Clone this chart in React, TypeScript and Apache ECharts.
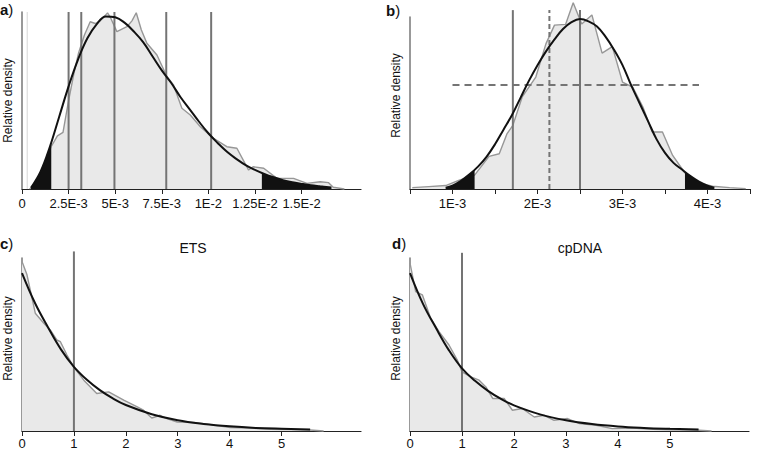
import React, { useEffect, useRef } from "react";
import * as echarts from "echarts";

const FONT = "'Liberation Sans', Arial, Helvetica, sans-serif";

// ---------- Panel a (x in units of 1E-3) ----------
const ticksA = [0, 2.5, 5, 7.5, 10, 12.5, 15];
const tickLabelsA = ["0", "2.5E-3", "5E-3", "7.5E-3", "1E-2", "1.25E-2", "1.5E-2"];
const histA = [
  [0.4, 0], [0.7, 0.02], [1.0, 0.09], [1.3, 0.17], [1.57, 0.24], [1.9, 0.3], [2.2, 0.32],
  [2.5, 0.5], [2.8, 0.66], [3.04, 0.77], [3.35, 0.87], [3.66, 0.945], [3.93, 0.935],
  [4.2, 0.95], [4.59, 0.995], [4.74, 0.97], [5.09, 0.889], [5.63, 0.917], [5.9, 0.95],
  [6.13, 0.996], [6.4, 0.9], [6.7, 0.823], [7.24, 0.757], [7.78, 0.634], [8.13, 0.588],
  [8.58, 0.456], [9.03, 0.418], [9.57, 0.352], [10.28, 0.286], [10.99, 0.239], [11.53, 0.23],
  [12.16, 0.107], [12.4, 0.126], [12.97, 0.117], [13.68, 0.06], [14.57, 0.06], [15.29, 0.032],
  [16.0, 0.041], [16.45, 0.036], [16.7, 0.01], [17.3, 0],
];
const curveA = [
  [0.48, 0.007], [1.0, 0.1], [1.5, 0.24], [2.0, 0.41], [2.5, 0.58], [3.0, 0.73], [3.5, 0.85],
  [4.0, 0.93], [4.5, 0.975], [5.0, 0.97], [5.5, 0.94], [6.0, 0.89], [6.5, 0.83], [7.0, 0.75],
  [7.5, 0.67], [8.0, 0.6], [8.5, 0.52], [9.0, 0.45], [9.5, 0.38], [10.0, 0.315], [10.5, 0.26],
  [11.0, 0.21], [11.5, 0.17], [12.0, 0.135], [12.5, 0.108], [13.0, 0.085], [13.5, 0.066],
  [14.0, 0.05], [14.5, 0.038], [15.0, 0.029], [15.5, 0.021], [16.0, 0.015], [16.6, 0.008],
];
const leftTailA = [[0.48, 0.007], [1.0, 0.1], [1.57, 0.262]];
const rightTailA = [
  [12.87, 0.091], [13.0, 0.085], [13.5, 0.066], [14.0, 0.05], [14.5, 0.038], [15.0, 0.029],
  [15.5, 0.021], [16.0, 0.015], [16.6, 0.008],
];
const solidLinesA = [2.5, 3.18, 4.96, 7.74, 10.15];
const faintLinesA = [0.28];

// ---------- Panel b (x in units of 1E-3) ----------
const tickMarksB = [0.5, 1, 1.5, 2, 2.5, 3, 3.5, 4, 4.5];
const ticksB = [1, 2, 3, 4];
const tickLabelsB = ["1E-3", "2E-3", "3E-3", "4E-3"];
const histB = [
  [0.527, 0.008], [0.72, 0.014], [0.92, 0.02], [1.08, 0.052], [1.26, 0.081], [1.43, 0.19],
  [1.55, 0.205], [1.64, 0.32], [1.71, 0.37], [1.82, 0.535], [1.98, 0.651], [2.1, 0.845],
  [2.2, 0.953], [2.33, 0.957], [2.42, 1.083], [2.52, 0.959], [2.64, 1.012], [2.76, 0.79],
  [2.88, 0.828], [3.0, 0.622], [3.12, 0.593], [3.24, 0.477], [3.35, 0.331], [3.47, 0.331],
  [3.59, 0.195], [3.735, 0.093], [3.9, 0.035], [4.06, 0.016], [4.26, 0.008], [4.45, 0.002],
];
const curveB = [
  [0.92, 0.008], [1.0, 0.02], [1.1, 0.048], [1.2, 0.085], [1.3, 0.13], [1.4, 0.187],
  [1.5, 0.26], [1.6, 0.345], [1.7, 0.43], [1.8, 0.53], [1.9, 0.63], [2.0, 0.72], [2.1, 0.8],
  [2.2, 0.87], [2.3, 0.93], [2.4, 0.97], [2.5, 0.988], [2.6, 0.975], [2.7, 0.945],
  [2.8, 0.886], [2.9, 0.81], [3.0, 0.72], [3.1, 0.605], [3.2, 0.5], [3.3, 0.395], [3.4, 0.29],
  [3.5, 0.21], [3.6, 0.152], [3.7, 0.113], [3.8, 0.075], [3.9, 0.043], [4.0, 0.02], [4.08, 0.008],
];
const leftTailB = [[0.92, 0.008], [1.0, 0.02], [1.1, 0.048], [1.2, 0.085], [1.26, 0.11]];
const rightTailB = [[3.735, 0.1], [3.8, 0.075], [3.9, 0.043], [4.0, 0.02], [4.08, 0.008]];
const solidLinesB = [1.71, 2.5];
const dashedVLinesB = [2.14];
const dashedHLineB = [[1.0, 0.605], [3.9, 0.605]];

// ---------- Panel c (ETS) ----------
const ticksCD = [0, 1, 2, 3, 4, 5];
const tickLabelsCD = ["0", "1", "2", "3", "4", "5"];
const histC = [
  [0, 0.98], [0.096, 0.903], [0.256, 0.681], [0.42, 0.623], [0.545, 0.584], [0.67, 0.526],
  [0.74, 0.516], [0.866, 0.439], [0.995, 0.371], [1.19, 0.294], [1.44, 0.217], [1.67, 0.226],
  [1.96, 0.178], [2.22, 0.139], [2.34, 0.12], [2.5, 0.075], [2.66, 0.091], [2.79, 0.072],
  [2.99, 0.052], [3.31, 0.049], [3.63, 0.037], [4.01, 0.02], [4.4, 0.017], [4.78, 0.01],
  [5.17, 0.008], [5.55, 0.006], [5.81, 0],
];
const curveC = [
  [0, 0.913], [0.25, 0.74], [0.5, 0.6], [0.75, 0.472], [1.0, 0.371], [1.25, 0.296], [1.5, 0.236],
  [1.75, 0.188], [2.0, 0.15], [2.5, 0.097], [3.0, 0.062], [3.5, 0.041], [4.0, 0.027],
  [4.5, 0.018], [5.0, 0.013], [5.55, 0.009],
];
const solidLinesC = [1];

// ---------- Panel d (cpDNA) ----------
const histD = [
  [0, 0.971], [0.109, 0.806], [0.237, 0.787], [0.397, 0.652], [0.558, 0.574], [0.75, 0.497],
  [0.91, 0.41], [1.0, 0.342], [1.17, 0.313], [1.33, 0.294], [1.46, 0.255], [1.59, 0.188],
  [1.81, 0.188], [1.97, 0.12], [2.16, 0.13], [2.39, 0.081], [2.58, 0.091], [2.77, 0.062],
  [3.03, 0.072], [3.26, 0.043], [3.58, 0.033], [3.89, 0.014], [4.28, 0.017], [4.67, 0.01],
  [5.05, 0.007], [5.56, 0.004], [5.8, 0],
];
const curveD = [
  [0, 0.913], [0.25, 0.735], [0.5, 0.595], [0.75, 0.466], [1.0, 0.362], [1.25, 0.29],
  [1.5, 0.232], [1.75, 0.185], [2.0, 0.148], [2.5, 0.096], [3.0, 0.062], [3.5, 0.04],
  [4.0, 0.026], [4.5, 0.018], [5.0, 0.013], [5.55, 0.009],
];
const solidLinesD = [1];

const panelTitles = ["ETS", "cpDNA"];

function labelFor(ticks: number[], labels: string[]) {
  return (v: number) => {
    const i = ticks.findIndex((t) => Math.abs(t - v) < 1e-9);
    return i >= 0 ? labels[i] : "";
  };
}

export default function App() {
  const ref = useRef<HTMLDivElement>(null);

  useEffect(() => {
    if (!ref.current) return;
    const chart = echarts.init(ref.current, null, { renderer: "svg" });

    const grids = [
      { left: 22, top: 12, width: 339, height: 177 },
      { left: 410, top: 17, width: 340, height: 172 },
      { left: 22, top: 258, width: 339, height: 173 },
      { left: 410, top: 258, width: 339, height: 173 },
    ];
    const xRanges = [
      [0, 18.19],
      [0.5, 4.5],
      [0, 6.53],
      [0, 6.52],
    ];
    const tickSets = [ticksA, tickMarksB, ticksCD, ticksCD];
    const labelSets = [ticksA, ticksB, ticksCD, ticksCD];
    const labelFmt = [
      labelFor(ticksA, tickLabelsA),
      labelFor(ticksB, tickLabelsB),
      labelFor(ticksCD, tickLabelsCD),
      labelFor(ticksCD, tickLabelsCD),
    ];
    const labelMargins = [8, 8, 6, 6];
    const namePad = [0, 15, 12, 12];

    const xAxis = grids.map((_, i) => ({
      type: "value",
      gridIndex: i,
      min: xRanges[i][0],
      max: xRanges[i][1],
      splitLine: { show: false },
      axisLine: { show: true, onZero: false, lineStyle: { color: "#222", width: 1.2 } },
      axisTick: {
        show: true,
        customValues: tickSets[i],
        length: 5,
        inside: false,
        lineStyle: { color: "#222", width: 1 },
      },
      axisLabel: {
        show: true,
        customValues: labelSets[i],
        formatter: labelFmt[i],
        fontSize: 13,
        color: "#111",
        fontFamily: FONT,
        margin: labelMargins[i],
      },
    }));

    const yAxis = grids.map((_, i) => ({
      type: "value",
      gridIndex: i,
      min: 0,
      max: 1,
      axisLine: { show: true, onZero: false, lineStyle: { color: "#777", width: 1.5 } },
      axisTick: { show: false },
      axisLabel: { show: false },
      splitLine: { show: false },
      name: "Relative density",
      nameLocation: "middle",
      nameGap: 8,
      nameTextStyle: {
        fontSize: 12,
        color: "#111",
        fontFamily: FONT,
        padding: [0, 0, 0, namePad[i]],
      },
    }));

    const series: any[] = [];
    const hist = (i: number, data: number[][]) => ({
      type: "line",
      xAxisIndex: i,
      yAxisIndex: i,
      data,
      symbol: "none",
      clip: false,
      z: 1,
      lineStyle: { color: "#979797", width: 1.4 },
      areaStyle: { color: "#e9e9e9", opacity: 1 },
    });
    const curve = (i: number, data: number[][]) => ({
      type: "line",
      xAxisIndex: i,
      yAxisIndex: i,
      data,
      symbol: "none",
      smooth: 0.4,
      clip: false,
      z: 5,
      lineStyle: { color: "#111", width: 2 },
    });
    const tail = (i: number, data: number[][]) => ({
      type: "line",
      xAxisIndex: i,
      yAxisIndex: i,
      data,
      symbol: "none",
      smooth: 0.4,
      clip: false,
      z: 2,
      lineStyle: { width: 0, color: "#111" },
      areaStyle: { color: "#111", opacity: 1 },
    });
    const vline = (i: number, x: number, top: number, color: string, width: number, dashed = false) => ({
      type: "line",
      xAxisIndex: i,
      yAxisIndex: i,
      data: [
        [x, 0],
        [x, top],
      ],
      symbol: "none",
      clip: false,
      z: 3,
      lineStyle: { color, width, type: dashed ? [5, 3] : "solid" },
    });

    // a
    series.push(hist(0, histA));
    series.push(tail(0, leftTailA), tail(0, rightTailA));
    faintLinesA.forEach((x) => series.push(vline(0, x, 1, "#d6d6d6", 1)));
    solidLinesA.forEach((x) => series.push(vline(0, x, 1, "#747474", 2)));
    series.push(curve(0, curveA));
    // b
    series.push(hist(1, histB));
    series.push(tail(1, leftTailB), tail(1, rightTailB));
    solidLinesB.forEach((x) => series.push(vline(1, x, 1.04, "#747474", 2)));
    dashedVLinesB.forEach((x) => series.push(vline(1, x, 1.04, "#747474", 2, true)));
    series.push({
      type: "line",
      xAxisIndex: 1,
      yAxisIndex: 1,
      data: dashedHLineB,
      symbol: "none",
      clip: false,
      z: 3,
      lineStyle: { color: "#747474", width: 2, type: [7, 5] },
    });
    series.push(curve(1, curveB));
    // c
    series.push(hist(2, histC));
    solidLinesC.forEach((x) => series.push(vline(2, x, 1.038, "#747474", 2)));
    series.push(curve(2, curveC));
    // d
    series.push(hist(3, histD));
    solidLinesD.forEach((x) => series.push(vline(3, x, 1.03, "#747474", 2)));
    series.push(curve(3, curveD));

    const panelLabel = (letter: string, x: number, y: number) => ({
      type: "text",
      x,
      y,
      style: {
        text: `{b|${letter}})`,
        fontSize: 15,
        fontFamily: FONT,
        fill: "#111",
        verticalAlign: "middle",
        textVerticalAlign: "middle",
        rich: { b: { fontWeight: "bold", fontSize: 15, fontFamily: FONT, fill: "#111" } },
      },
    });
    const titleText = (text: string, x: number, y: number) => ({
      type: "text",
      x,
      y,
      style: {
        text,
        fontSize: 14,
        fontFamily: FONT,
        fill: "#111",
        align: "center",
        textAlign: "center",
        verticalAlign: "middle",
        textVerticalAlign: "middle",
      },
    });

    chart.setOption({
      animation: false,
      backgroundColor: "#fff",
      grid: grids,
      xAxis,
      yAxis,
      series,
      graphic: [
        panelLabel("a", 0, 9.5),
        panelLabel("b", 386, 10),
        panelLabel("c", 0, 243),
        panelLabel("d", 392, 243),
        titleText(panelTitles[0], 193, 248),
        titleText(panelTitles[1], 580, 248),
      ],
    });

    return () => chart.dispose();
  }, []);

  return (
    <div
      ref={ref}
      style={{ position: "absolute", left: 0, top: 0, width: 759, height: 450 }}
    />
  );
}
